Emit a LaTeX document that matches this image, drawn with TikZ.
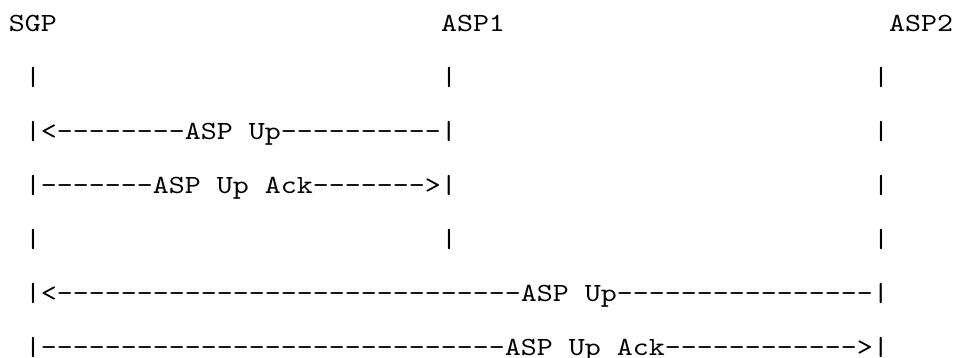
\documentclass[tikz,border=0pt]{standalone}
\usepackage{fontspec}
\setmonofont{lmmono10-regular}[Extension=.otf]
\begin{document}
\begin{tikzpicture}[x=1pt,y=1pt,
  txt/.style={anchor=base west, inner sep=0pt, outer sep=0pt, text=black,
    xscale=1.163, transform shape,
    font=\ttfamily\fontsize{26.2}{30}\selectfont}]
\useasboundingbox (0,0) rectangle (958,358);
% lifeline labels
\node[txt] (sgp)  at (9,326)   {SGP};
\node[txt] (asp1) at (441,326) {ASP1};
\node[txt] (asp2) at (889,326) {ASP2};
% row 1: lifelines
\node[txt] (l1a) at (25,272)  {|};
\node[txt] (l1b) at (441,272) {|};
\node[txt] (l1c) at (873,272) {|};
% row 2: ASP Up from ASP1 to SGP
\node[txt] (m1)  at (25,218)  {|<--------ASP Up----------|};
\node[txt] (l2c) at (873,218) {|};
% row 3: ASP Up Ack from SGP to ASP1
\node[txt] (m2)  at (25,164)  {|-------ASP Up Ack------->|};
\node[txt] (l3c) at (873,164) {|};
% row 4: lifelines
\node[txt] (l4a) at (25,110)  {|};
\node[txt] (l4b) at (441,110) {|};
\node[txt] (l4c) at (873,110) {|};
% row 5: ASP Up from ASP2 to SGP
\node[txt] (m3)  at (25,56) {|<-----------------------------ASP Up----------------|};
% row 6: ASP Up Ack from SGP to ASP2
\node[txt] (m4)  at (25,2)  {|-----------------------------ASP Up Ack------------>|};
\end{tikzpicture}
\end{document}
